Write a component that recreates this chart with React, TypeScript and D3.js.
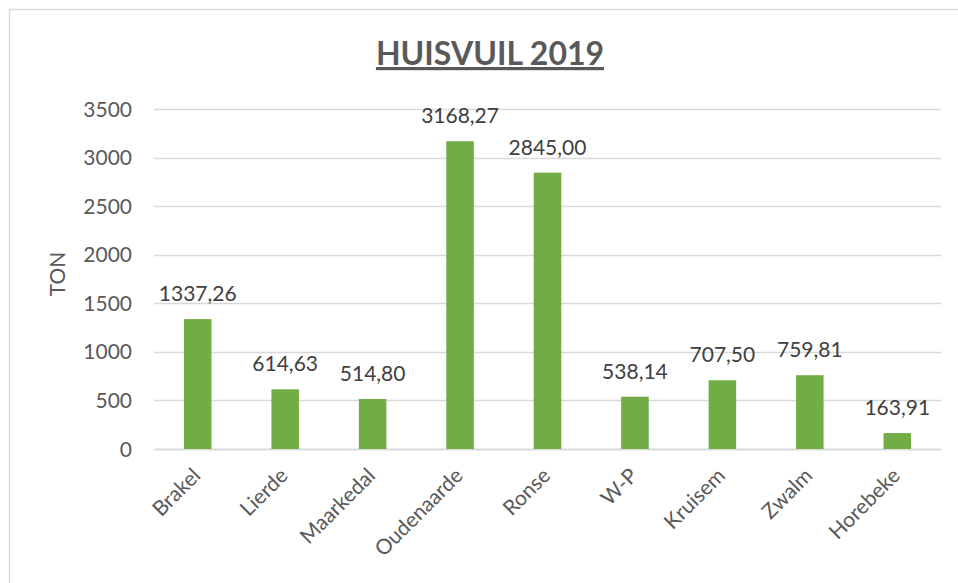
import React, { useRef, useEffect } from 'react';
import * as d3 from 'd3';

const categories = ['Brakel', 'Lierde', 'Maarkedal', 'Oudenaarde', 'Ronse', 'W-P', 'Kruisem', 'Zwalm', 'Horebeke'];
const values = [1337.26, 614.63, 514.8, 3168.27, 2845.0, 538.14, 707.5, 759.81, 163.91];
const yTicks = [0, 500, 1000, 1500, 2000, 2500, 3000, 3500];

const W = 958;
const H = 583;
const FONT = 'Lato, Carlito, "Open Sans", sans-serif';
const TXT = '#595959';

const App = () => {
    const svgRef = useRef<SVGSVGElement>(null);

    useEffect(() => {
        const svg = d3.select(svgRef.current);
        svg.selectAll('*').remove();

        const marginLeft = 154;
        const marginRight = 17;
        const marginTop = 109;
        const bottomY = 449;

        const x = d3.scaleBand().domain(categories).range([marginLeft, W - marginRight]).paddingInner(0.685).paddingOuter(0.3425);
        const y = d3.scaleLinear().domain([0, 3500]).range([bottomY, marginTop]);

        // chart border
        svg.append('rect')
            .attr('x', 9.5).attr('y', 9.5)
            .attr('width', W).attr('height', H)
            .attr('fill', 'white')
            .attr('stroke', '#d9d9d9')
            .attr('stroke-width', 1.5);

        // title
        svg.append('text')
            .attr('x', 490).attr('y', 65)
            .attr('text-anchor', 'middle')
            .attr('font-family', FONT)
            .attr('font-weight', 'bold')
            .attr('font-size', 32)
            .attr('fill', TXT)
            .attr('text-decoration', 'underline')
            .text('HUISVUIL 2019');

        // gridlines
        svg.append('g').selectAll('line').data(yTicks).join('line')
            .attr('x1', marginLeft).attr('x2', W - marginRight)
            .attr('y1', d => Math.round(y(d)) + 0.5).attr('y2', d => Math.round(y(d)) + 0.5)
            .attr('stroke', '#d9d9d9')
            .attr('stroke-width', d => d === 0 ? 2 : 1.5);

        // y tick labels
        svg.append('g').selectAll('text').data(yTicks).join('text')
            .attr('x', 132).attr('y', d => y(d) + 7.5)
            .attr('text-anchor', 'end')
            .attr('font-family', FONT).attr('font-size', 21)
            .attr('fill', TXT)
            .text(d => d);

        // y title
        svg.append('text')
            .attr('transform', `translate(65,${(marginTop + bottomY) / 2 - 5}) rotate(-90)`)
            .attr('text-anchor', 'middle')
            .attr('font-family', FONT).attr('font-size', 21)
            .attr('fill', TXT)
            .text('TON');

        // bars
        svg.append('g').selectAll('rect').data(values).join('rect')
            .attr('x', (d, i) => x(categories[i])!)
            .attr('width', x.bandwidth())
            .attr('y', d => y(d))
            .attr('height', d => bottomY - y(d))
            .attr('fill', '#70ad47');

        // data labels
        svg.append('g').selectAll('text').data(values).join('text')
            .attr('x', (d, i) => x(categories[i])! + x.bandwidth() / 2)
            .attr('y', d => y(d) - 18)
            .attr('text-anchor', 'middle')
            .attr('font-family', FONT).attr('font-size', 21)
            .attr('fill', '#404040')
            .text(d => d.toFixed(2).replace('.', ','));

        // category labels
        svg.append('g').selectAll('text').data(categories).join('text')
            .attr('transform', d => `translate(${x(d)! + x.bandwidth() / 2 + 4},${bottomY + 28}) rotate(-45)`)
            .attr('text-anchor', 'end')
            .attr('font-family', FONT).attr('font-size', 21)
            .attr('fill', TXT)
            .text(d => d);
    }, []);

    return (
        <svg ref={svgRef} width={W} height={H} style={{ position: 'absolute', left: 0, top: 0 }} />
    );
};

export default App;
